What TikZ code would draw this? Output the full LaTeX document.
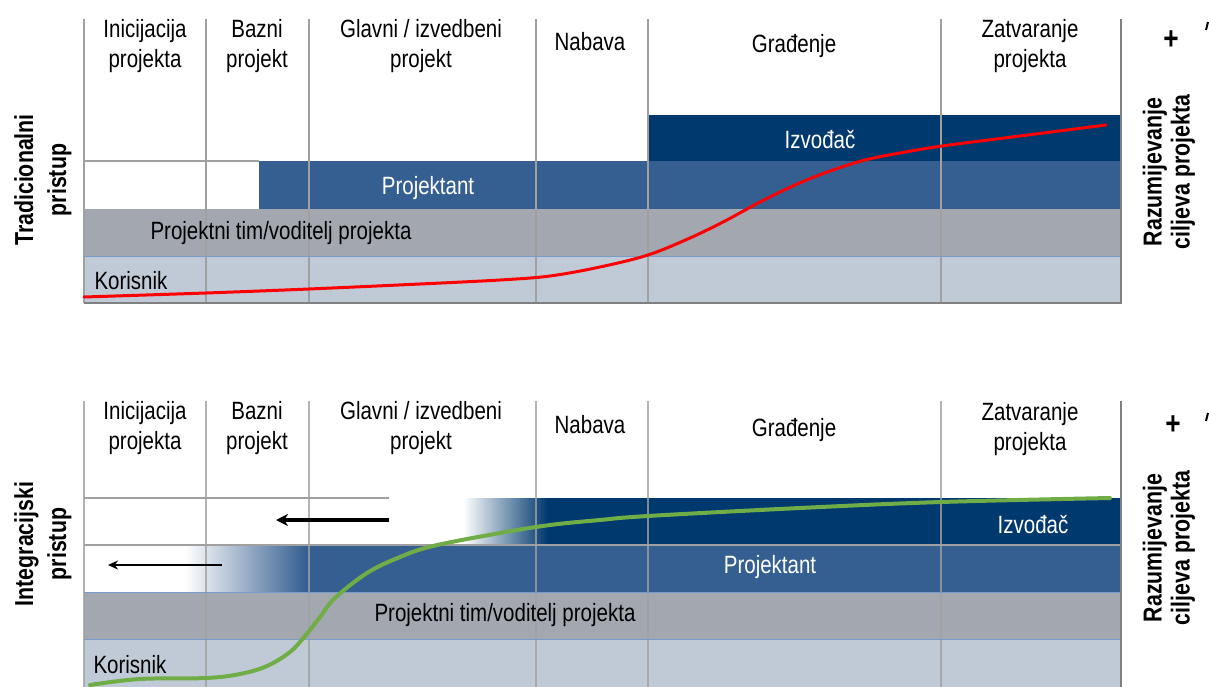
\documentclass[tikz,border=0pt]{standalone}
\usepackage{fontspec}
\setmainfont{Liberation Sans}[FakeStretch=0.82]
\usetikzlibrary{arrows.meta}
\definecolor{izv}{RGB}{0,57,110}
\definecolor{proj}{RGB}{54,95,145}
\definecolor{tim}{RGB}{162,167,176}
\definecolor{kor}{RGB}{192,202,214}
\definecolor{grid}{RGB}{160,160,160}
\definecolor{axis}{RGB}{128,128,128}
\definecolor{sep}{RGB}{120,155,200}
\definecolor{curvegreen}{RGB}{112,173,71}
\begin{document}
\begin{tikzpicture}[x=1pt,y=-1pt,
  lbl/.style={font=\fontsize{25}{30}\selectfont, align=center, inner sep=0pt},
  wlbl/.style={lbl, text=white},
  side/.style={font=\bfseries\fontsize{26}{33}\selectfont, align=center, inner sep=0pt, rotate=90},
  sider/.style={font=\bfseries\fontsize{26}{28}\selectfont, align=center, inner sep=0pt, rotate=90},
  gridline/.style={draw=grid, line width=1.3pt},
  axisline/.style={draw=axis, line width=2pt},
  sepline/.style={draw=sep, line width=1pt},
  bigarrow/.style={draw=black, line width=4pt, -{Stealth[length=12pt,width=12pt]}},
  smallarrow/.style={draw=black, line width=2.2pt, -{Stealth[length=10pt,width=9pt]}},
  plusmark/.style={font=\bfseries\fontsize{32}{32}\selectfont, inner sep=0pt}
]
\useasboundingbox (0,0) rectangle (1209,687);

% ================= TOP PANEL =================
\fill[izv]  (648,115) rectangle (1121,161);
\fill[proj] (259,161) rectangle (1121,209);
\fill[tim]  (84,209) rectangle (1121,256);
\fill[kor]  (84,256) rectangle (1121,303);
\foreach \xx in {84,206,309,536,648,941}
  \draw[gridline] (\xx,19) -- (\xx,303);
\draw[gridline] (84,161) -- (259,161);
\draw[sepline] (84,256) -- (1121,256);
\draw[axisline] (84,303) -- (1122,303);
\draw[axisline] (1121,19) -- (1121,303);

\draw[red, line width=3pt, line cap=round] plot[smooth, tension=0.55] coordinates
 {(84,297) (206,293) (309,289) (420,284) (500,280) (550,276) (600,267) (648,255)
  (690,238) (725,221) (760,202) (795,185) (830,171) (865,160) (900,153) (942,146)
  (1020,136) (1106,125)};

\node[lbl] (t1) at (145,46) {Inicijacija\\projekta};
\node[lbl] (t2) at (257,46) {Bazni\\projekt};
\node[lbl] (t3) at (421,46) {Glavni / izvedbeni\\projekt};
\node[lbl] (t4) at (590,42) {Nabava};
\node[lbl] (t5) at (794,46) {Građenje};
\node[lbl] (t6) at (1030,46) {Zatvaranje\\projekta};
\node[wlbl] (ti) at (820,140) {Izvođač};
\node[wlbl] (tp) at (428,188) {Projektant};
\node[lbl] (tt) at (281,233) {Projektni tim/voditelj projekta};
\node[lbl] (tk) at (131,281) {Korisnik};
\node[side] (tl) at (43,180) {Tradicionalni\\pristup};
\node[sider] (tr) at (1169,172) {Razumijevanje\\ciljeva projekta};
\node[plusmark] (tplus) at (1171,40) {+};
\coordinate (tm1) at (1206,30);
\coordinate (tm2) at (1208,22);
\draw[line width=2pt] (tm1) -- (tm2);

% ================= BOTTOM PANEL =================
\fill[izv] (547,498) rectangle (1121,545);
\shade[left color=white, right color=izv] (463,498) rectangle (547.5,545);
\fill[proj] (305,545) rectangle (1121,592);
\shade[left color=white, right color=proj] (185,545) rectangle (305.5,592);
\fill[tim] (84,592) rectangle (1121,639);
\fill[kor] (84,639) rectangle (1121,687);
\foreach \xx in {84,206,309,536,648,941}
  \draw[gridline, draw opacity=0.8] (\xx,401) -- (\xx,687);
\draw[gridline] (84,498) -- (389,498);
\draw[gridline] (84,545) -- (1121,545);
\draw[sepline] (84,592) -- (1121,592);
\draw[sepline] (84,639) -- (1121,639);
\draw[axisline] (1121,401) -- (1121,687);

\draw[curvegreen, line width=4pt, line cap=round] plot[smooth, tension=0.6] coordinates
 {(90,685) (140,679) (206,678) (240,674) (267,666) (290,652) (305,636) (320,617) (335,598)
  (367,573) (400,557) (433,546) (500,533) (550,525) (600,520) (648,516) (800,508)
  (941,502) (1110,498)};

\coordinate (a1s) at (389,520);
\coordinate (a1e) at (276,520);
\draw[bigarrow] (a1s) -- (a1e);
\coordinate (a2s) at (222,565);
\coordinate (a2e) at (108,565);
\draw[smallarrow] (a2s) -- (a2e);

\node[lbl] (b1) at (145,428) {Inicijacija\\projekta};
\node[lbl] (b2) at (257,428) {Bazni\\projekt};
\node[lbl] (b3) at (421,428) {Glavni / izvedbeni\\projekt};
\node[lbl] (b4) at (590,425) {Nabava};
\node[lbl] (b5) at (794,430) {Građenje};
\node[lbl] (b6) at (1030,429) {Zatvaranje\\projekta};
\node[wlbl] (bi) at (1033,525) {Izvođač};
\node[wlbl] (bp) at (770,567) {Projektant};
\node[lbl] (bt) at (505,615) {Projektni tim/voditelj projekta};
\node[lbl] (bk) at (130,665) {Korisnik};
\node[side] (bl) at (43,544) {Integracijski\\pristup};
\node[sider] (br) at (1169,548) {Razumijevanje\\ciljeva projekta};
\node[plusmark] (bplus) at (1173,425) {+};
\coordinate (bm1) at (1206,421);
\coordinate (bm2) at (1208,413);
\draw[line width=2pt] (bm1) -- (bm2);
\end{tikzpicture}
\end{document}
